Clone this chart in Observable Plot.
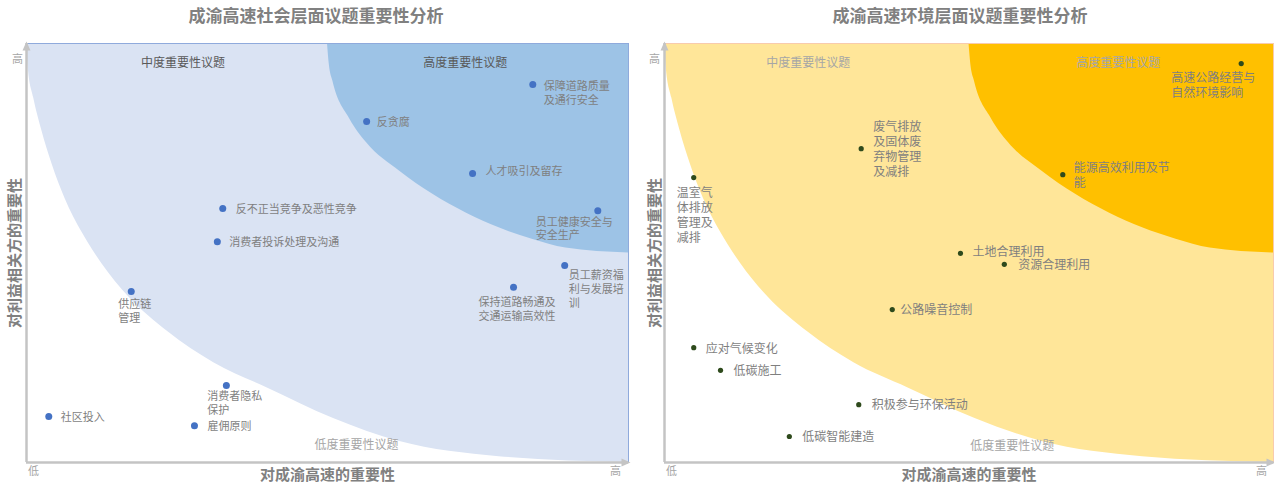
<!DOCTYPE html>
<html><head><meta charset="utf-8">
<script src="https://cdn.jsdelivr.net/npm/d3@7"></script>
<script src="https://cdn.jsdelivr.net/npm/@observablehq/plot@0.6"></script>
<style>
body{margin:0;background:#fff;font-family:"Noto Sans CJK SC",sans-serif;}
#wrap{position:relative;width:1274px;height:486px;overflow:hidden;background:#fff;}
.title{position:absolute;top:4px;width:400px;text-align:center;font-size:17px;font-weight:bold;color:#808080;line-height:22px;}
.chart{position:absolute;top:30px;}
</style></head><body>
<div id="wrap">
  <div class="title" style="left:116px">成渝高速社会层面议题重要性分析</div>
  <div class="title" style="left:760px">成渝高速环境层面议题重要性分析</div>
  <div class="chart" id="left" style="left:0px"></div>
  <div class="chart" id="right" style="left:637px"></div>
</div>
<script>
// ---- Social panel data ----
const socialNames = ["保障道路质量\n及通行安全", "反贪腐", "人才吸引及留存", "员工健康安全与\n安全生产", "员工薪资福\n利与发展培\n训", "保持道路畅通及\n交通运输高效性", "反不正当竞争及恶性竞争", "消费者投诉处理及沟通", "供应链\n管理", "消费者隐私\n保护", "社区投入", "雇佣原则"];
const socialImportance = [8.41, 5.65, 7.41, 9.49, 8.94, 8.09, 3.26, 3.17, 1.74, 3.32, 0.37, 2.79];
const socialStakeholder = [9.02, 8.14, 6.90, 6.01, 4.70, 4.18, 6.06, 5.27, 4.08, 1.84, 1.10, 0.88];
const socialLabelOffsets = [[11, 7.7], [10, 0], [13, -3], [-62, 17.5], [4, 23], [-35, 21], [13, 0], [12, 0], [-13, 19], [-19, 17.5], [12, 0], [13, 0]];

// ---- Environment panel data ----
const envNames = ["高速公路经营与\n自然环境影响", "废气排放\n及固体废\n弃物管理\n及减排", "能源高效利用及节\n能", "温室气\n体排放\n管理及\n减排", "土地合理利用", "资源合理利用", "公路噪音控制", "应对气候变化", "低碳施工", "积极参与环保活动", "低碳智能建造"];
const envImportance = [9.47, 3.23, 6.54, 0.48, 4.86, 5.58, 3.74, 0.48, 0.92, 3.19, 2.05];
const envStakeholder = [9.52, 7.49, 6.87, 6.80, 4.99, 4.73, 3.65, 2.74, 2.20, 1.38, 0.62];
const envLabelOffsets = [[-70, 21.5], [12, 0.5], [11, 0], [-17, 37.5], [12, -2], [14, 0], [8, 0], [12, 0], [13, 0], [13, 0], [13, 0]];

// ---- Region shapes (data units 0-10) ----
const regionNames = ["中度重要性议题", "高度重要性议题", "低度重要性议题"];
const socialRegionX = [2.6, 7.29, 5.48];
const socialRegionY = [9.52, 9.52, 0.41];
const envRegionX = [2.36, 7.45, 5.71];
const envRegionY = [9.52, 9.52, 0.38];
const outerBoundaryX = [0, 0.03, 0.12, 0.25, 0.43, 0.64, 0.92, 1.25, 1.7, 2.35, 3.11, 4.0, 5.1, 6.2, 7.85, 10];
const outerBoundaryY = [10, 9.4, 8.7, 7.95, 7.1, 6.3, 5.5, 4.75, 3.95, 3.12, 2.38, 1.78, 1.05, 0.5, 0.14, 0];
const innerBoundaryX = [5.0, 5.03, 5.09, 5.37, 5.65, 6.2, 6.75, 7.31, 7.85, 8.4, 8.96, 10];
const innerBoundaryY = [10, 9.5, 9.1, 8.2, 7.63, 6.95, 6.4, 5.95, 5.6, 5.33, 5.12, 5.0];

const axisTickLow = "低", axisTickHigh = "高";
const xTitle = "对成渝高速的重要性", yTitle = "对利益相关方的重要性";

const FONT = "'Noto Sans CJK SC', sans-serif";
const AXIS = "#c4c4c4";

const upHead = {draw(ctx) { ctx.moveTo(0, -2); ctx.lineTo(-4, 7); ctx.lineTo(4, 7); ctx.closePath(); }};
const rightHead = {draw(ctx) { ctx.moveTo(2, 0); ctx.lineTo(-7, -4); ctx.lineTo(-7, 4); ctx.closePath(); }};

function makePanel(cfg) {
  const issues = cfg.names.map((name, i) => ({name, x: cfg.xs[i], y: cfg.ys[i], off: cfg.offsets[i]}));
  const outer = outerBoundaryX.map((x, i) => ({x, y: outerBoundaryY[i]}));
  const inner = innerBoundaryX.map((x, i) => ({x, y: innerBoundaryY[i]}));
  const regions = regionNames.map((name, i) => ({name, x: cfg.regionX[i], y: cfg.regionY[i], color: cfg.regionColors[i]}));
  const labelMarks = issues.map(d => Plot.text([d], {
    x: "x", y: "y", text: "name", dx: d.off[0], dy: d.off[1],
    textAnchor: "start", lineAnchor: "middle", fontSize: cfg.labelSize,
    lineHeight: cfg.lineHeight, fill: "#7f7f7f"
  }));
  const regionMarks = regions.map(d => Plot.text([d], {
    x: "x", y: "y", text: "name", fontSize: 12, fill: d.color
  }));
  const mid = {textAnchor: "middle", lineAnchor: "middle"};
  return Plot.plot({
    width: cfg.width, height: 456,
    marginLeft: cfg.marginLeft, marginRight: cfg.marginRight, marginTop: 13, marginBottom: 24,
    x: {domain: [0, 10], axis: null},
    y: {domain: [0, 10], axis: null},
    style: {fontFamily: FONT, overflow: "visible", background: "transparent"},
    marks: [
      Plot.areaY(outer, {x: "x", y1: "y", y2: () => 10, curve: "monotone-x", fill: cfg.lightFill, clip: true}),
      Plot.areaY(inner, {x: "x", y1: "y", y2: () => 10, curve: "monotone-x", fill: cfg.darkFill, clip: true}),
      Plot.frame({stroke: cfg.border, strokeWidth: 1}),
      ...regionMarks,
      Plot.ruleX([0], {stroke: AXIS, strokeWidth: 2.5}),
      Plot.ruleY([0], {stroke: AXIS, strokeWidth: 2.5}),
      Plot.dot([{x: 0, y: 10}], {x: "x", y: "y", symbol: upHead, fill: AXIS, r: 4}),
      Plot.dot([{x: 10, y: 0}], {x: "x", y: "y", symbol: rightHead, fill: AXIS, r: 4}),
      Plot.text([axisTickLow], {...mid, frameAnchor: "bottom-left", dx: 7, dy: 9, fontSize: 11, fill: "#a6a6a6"}),
      Plot.text([axisTickHigh], {...mid, frameAnchor: "bottom-right", dx: cfg.highDx, dy: 9, fontSize: 11, fill: "#a6a6a6"}),
      Plot.text([axisTickHigh], {...mid, frameAnchor: "top-left", dx: cfg.yHighDx, dy: 16, fontSize: 11, fill: "#a6a6a6"}),
      Plot.text([xTitle], {...mid, frameAnchor: "bottom", dy: 13, fontSize: 15, fontWeight: "bold", fill: "#808080"}),
      Plot.text([yTitle], {...mid, frameAnchor: "left", dx: cfg.yTitleDx, rotate: -90, fontSize: 15, fontWeight: "bold", fill: "#808080"}),
      Plot.dot(issues, {x: "x", y: "y", r: cfg.dotR, fill: cfg.dotFill}),
      ...labelMarks
    ]
  });
}

document.getElementById("left").append(makePanel({
  names: socialNames, xs: socialImportance, ys: socialStakeholder, offsets: socialLabelOffsets,
  regionX: socialRegionX, regionY: socialRegionY, regionColors: ["#595959", "#595959", "#a6a6a6"],
  width: 640, marginLeft: 26, marginRight: 12,
  lightFill: "#dae3f3", darkFill: "#9dc3e6", border: "#8faadc",
  dotR: 3.5, dotFill: "#4472c4", labelSize: 11, lineHeight: 1.25,
  highDx: -13, yHighDx: -9, yTitleDx: -11
}));

document.getElementById("right").append(makePanel({
  names: envNames, xs: envImportance, ys: envStakeholder, offsets: envLabelOffsets,
  regionX: envRegionX, regionY: envRegionY, regionColors: ["#a6a6a6", "#a6a6a6", "#a6a6a6"],
  width: 637, marginLeft: 27, marginRight: 1,
  lightFill: "#ffe699", darkFill: "#ffc000", border: "#f8cbad",
  dotR: 2.6, dotFill: "#2e4a1c", labelSize: 12, lineHeight: 1.25,
  highDx: -12, yHighDx: -10, yTitleDx: -9
}));
</script>
</body></html>
